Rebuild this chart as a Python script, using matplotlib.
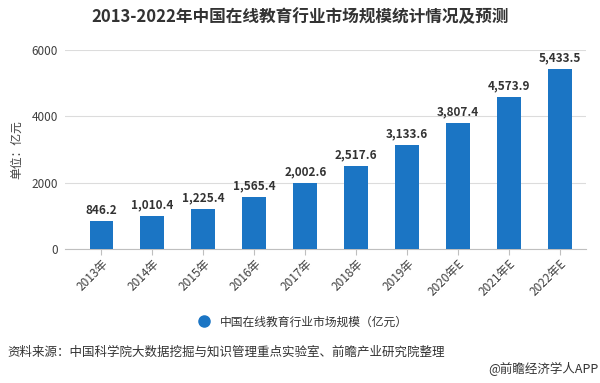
import matplotlib.pyplot as plt
from matplotlib.lines import Line2D

plt.rcParams['font.family'] = ['Noto Sans CJK SC', 'DejaVu Sans']

# Data
years = ["2013年", "2014年", "2015年", "2016年", "2017年",
         "2018年", "2019年", "2020年E", "2021年E", "2022年E"]
market_size = [846.2, 1010.4, 1225.4, 1565.4, 2002.6,
               2517.6, 3133.6, 3807.4, 4573.9, 5433.5]
y_ticks = [0, 2000, 4000, 6000]

BAR_COLOR = "#1b75c4"
TEXT_COLOR = "#404040"


def main() -> None:
    fig = plt.figure(figsize=(6, 3.83), dpi=100)
    ax = fig.add_axes([0.108, 0.349, 0.868, 0.521])

    x = range(len(years))
    ax.bar(x, market_size, width=0.47, color=BAR_COLOR, zorder=3)

    # Value labels above bars
    for i, v in enumerate(market_size):
        ax.text(i, v + 140, f"{v:,.1f}", ha="center", va="bottom",
                fontsize=8.5, fontweight="bold", color="#333333")

    # category axis starts a bit left of the first slot
    ax.set_xlim(-0.72, len(years) - 0.5)
    ax.set_ylim(0, 6000)
    ax.set_yticks(y_ticks)
    ax.set_yticklabels([str(t) for t in y_ticks], fontsize=8.5,
                       color=TEXT_COLOR)
    ax.set_xticks(list(x))
    ax.set_xticklabels(years, rotation=45, ha="right",
                       rotation_mode="anchor", fontsize=8.5,
                       color=TEXT_COLOR)

    # Grid and spines
    ax.grid(axis="y", color="#dcdcdc", linewidth=0.8, zorder=0)
    for side in ["top", "right", "left"]:
        ax.spines[side].set_visible(False)
    ax.spines["bottom"].set_color("#bfbfbf")
    ax.tick_params(axis="y", length=0, pad=5)
    ax.tick_params(axis="x", length=4, color="#bfbfbf", pad=2)

    ax.set_ylabel("单位：亿元", fontsize=8.5, color=TEXT_COLOR, labelpad=6)

    fig.text(0.5, 0.955, "2013-2022年中国在线教育行业市场规模统计情况及预测",
             ha="center", va="center", fontsize=12, fontweight="bold",
             color="#333333")

    # Legend with a round marker
    handle = Line2D([], [], marker="o", linestyle="none", markersize=8,
                    color=BAR_COLOR)
    fig.legend([handle], ["中国在线教育行业市场规模（亿元）"],
               loc="center", bbox_to_anchor=(0.5, 1 - 322 / 383),
               frameon=False, fontsize=8.5, handletextpad=0.3,
               labelcolor="#333333")

    fig.text(0.012, 1 - 352 / 383,
             "资料来源：中国科学院大数据挖掘与知识管理重点实验室、前瞻产业研究院整理",
             ha="left", va="center", fontsize=9, color="#333333")
    fig.text(0.997, 1 - 369 / 383, "@前瞻经济学人APP", ha="right",
             va="center", fontsize=9, color="#333333")

    fig.savefig("out.png", dpi=100)


if __name__ == "__main__":
    main()
